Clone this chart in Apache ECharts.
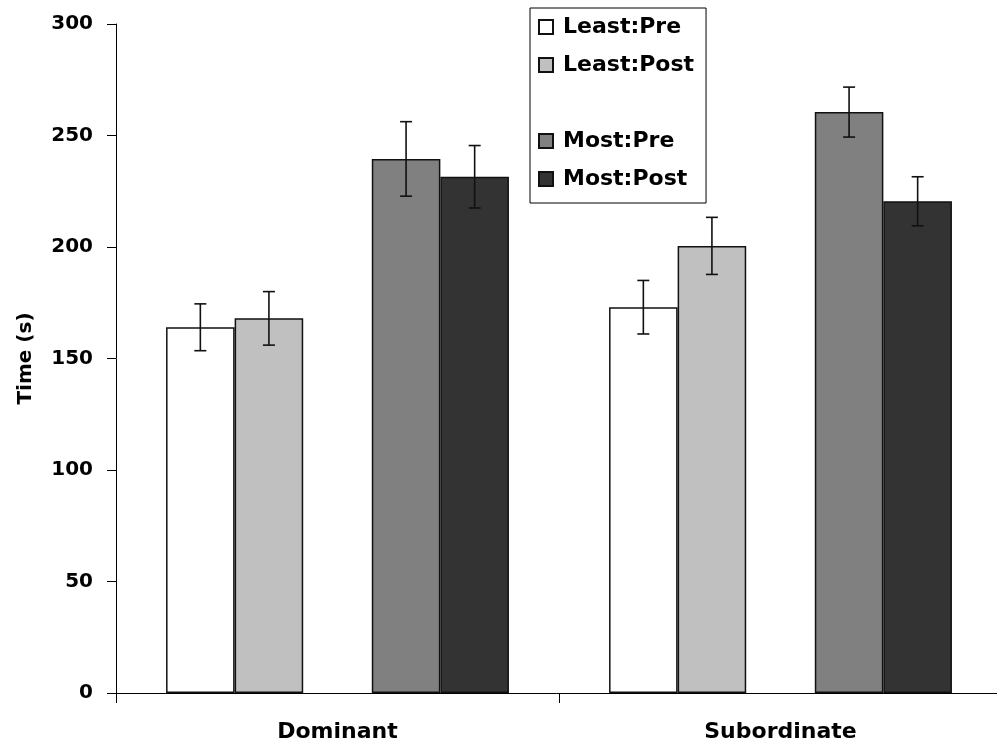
<!DOCTYPE html>
<html>
<head>
<meta charset="utf-8">
<script src="https://cdn.jsdelivr.net/npm/echarts@6/dist/echarts.min.js"></script>
<style>
html,body{margin:0;padding:0;background:#fff;}
#chart{width:997px;height:749px;}
</style>
</head>
<body>
<div id="chart"></div>
<script>
const categories = ['Dominant', 'Subordinate'];
const seriesNames = ['Least:Pre', 'Least:Post', ' ', 'Most:Pre', 'Most:Post'];
const leastPre = [164, 173];
const leastPreErr = [10.5, 12];
const leastPost = [168, 200.5];
const leastPostErr = [12, 12.8];
const blank = [null, null];
const mostPre = [239.5, 260.5];
const mostPreErr = [16.7, 11.2];
const mostPost = [231.5, 220.5];
const mostPostErr = [14, 11];
const yTicks = [0, 50, 100, 150, 200, 250, 300];

const values = [leastPre, leastPost, blank, mostPre, mostPost];
const errors = [leastPreErr, leastPostErr, null, mostPreErr, mostPostErr];
const colors = ['#ffffff', '#c0c0c0', 'transparent', '#808080', '#333333'];
const GAP = 0.226;
const FONT = 'DejaVu Sans';

const series = [];
seriesNames.forEach(function (name, k) {
  series.push({
    name: name,
    type: 'bar',
    data: values[k],
    barGap: '0%',
    barCategoryGap: (GAP * 100) + '%',
    itemStyle: {
      color: colors[k],
      borderColor: k === 2 ? 'transparent' : '#111',
      borderWidth: k === 2 ? 0 : 1.5
    },
    emphasis: { disabled: true },
    animation: false
  });
});
errors.forEach(function (errArr, k) {
  if (!errArr) return;
  series.push({
    type: 'custom',
    z: 10,
    animation: false,
    encode: { x: 0, y: 1 },
    data: values[k].map(function (v, i) { return [i, v, errArr[i]]; }),
    renderItem: function (params, api) {
      const ci = api.value(0), v = api.value(1), e = api.value(2);
      const band = api.size([1, 0])[0];
      const groupW = band * (1 - GAP);
      const bw = groupW / seriesNames.length;
      const cx = api.coord([ci, v])[0] - groupW / 2 + (k + 0.5) * bw;
      const yt = api.coord([ci, v + e])[1];
      const yb = api.coord([ci, v - e])[1];
      const cap = 6;
      const st = { stroke: '#111', lineWidth: 1.6 };
      return {
        type: 'group',
        children: [
          { type: 'line', shape: { x1: cx, y1: yt, x2: cx, y2: yb }, style: st },
          { type: 'line', shape: { x1: cx - cap, y1: yt, x2: cx + cap, y2: yt }, style: st },
          { type: 'line', shape: { x1: cx - cap, y1: yb, x2: cx + cap, y2: yb }, style: st }
        ]
      };
    }
  });
});

const chart = echarts.init(document.getElementById('chart'), null, { renderer: 'canvas' });
chart.setOption({
  backgroundColor: '#ffffff',
  animation: false,
  grid: { left: 116, width: 886, top: 24, height: 669, containLabel: false, outerBoundsMode: 'none' },
  legend: {
    data: seriesNames,
    orient: 'vertical',
    left: 530,
    top: 8,
    padding: [8, 12, 13, 8],
    itemGap: 16,
    itemWidth: 14,
    itemHeight: 14,
    icon: 'rect',
    borderColor: '#000',
    borderWidth: 1,
    selectedMode: false,
    textStyle: { fontFamily: FONT, fontWeight: 'bold', fontSize: 22, lineHeight: 22, color: '#000', padding: [0, 0, 0, 5] }
  },
  xAxis: {
    type: 'category',
    data: categories,
    axisLine: { lineStyle: { color: '#000', width: 1 } },
    axisTick: { show: true, alignWithLabel: false, interval: 0, length: 10, lineStyle: { color: '#000', width: 1 } },
    axisLabel: { fontFamily: FONT, fontWeight: 'bold', fontSize: 22, color: '#000', margin: 28 },
    splitLine: { show: false }
  },
  yAxis: {
    type: 'value',
    min: yTicks[0],
    max: yTicks[yTicks.length - 1],
    interval: 50,
    name: 'Time (s)',
    nameLocation: 'middle',
    nameGap: 80,
    nameTextStyle: { fontFamily: FONT, fontWeight: 'bold', fontSize: 20, color: '#000' },
    axisLine: { show: true, lineStyle: { color: '#000', width: 1 } },
    axisTick: { show: true, inside: false, length: 9, lineStyle: { color: '#000' } },
    axisLabel: { fontFamily: FONT, fontWeight: 'bold', fontSize: 20, color: '#000', margin: 23 },
    splitLine: { show: false }
  },
  series: series
});
</script>
</body>
</html>
